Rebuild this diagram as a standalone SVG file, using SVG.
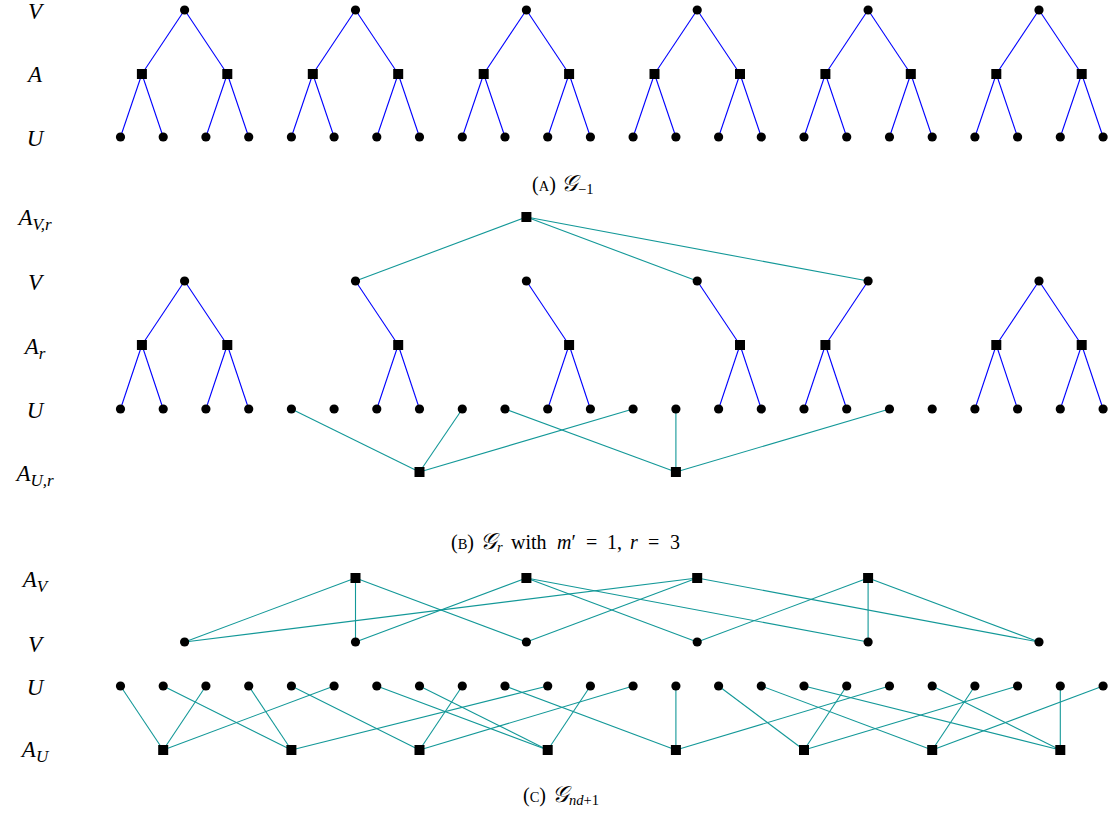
<svg xmlns="http://www.w3.org/2000/svg" xmlns:xlink="http://www.w3.org/1999/xlink" width="1111" height="816" viewBox="0 0 1111 816">
<style>
.tree{stroke:#0000ff;stroke-width:1.1;fill:none}
.bip{stroke:#139898;stroke-width:1.1;fill:none}
.lbl{font-family:"Liberation Serif","DejaVu Serif",serif;font-style:italic;font-size:23px;fill:#000;text-anchor:middle}
.sub{font-size:17px}
.cap{font-family:"Liberation Serif","DejaVu Serif",serif;font-size:20px;fill:#000}
.sc{font-size:14.5px}
.it{font-style:italic}
.scr{font-family:"DejaVu Serif","DejaVu Sans","Noto Sans",serif;font-style:italic;font-size:23px}
.cs{font-size:14.5px}
</style>
<defs>
<circle id="dot" r="4.6" fill="#000"/>
<rect id="sq" x="-5" y="-5" width="10" height="10" fill="#000"/>
</defs>
<rect width="1111" height="816" fill="#fff"/>

<g id="labels">
<text class="lbl" x="35" y="19">V</text>
<text class="lbl" x="35" y="82">A</text>
<text class="lbl" x="35" y="146">U</text>
<text class="lbl" x="35" y="225">A<tspan class="sub" dy="5">V,r</tspan></text>
<text class="lbl" x="35" y="290">V</text>
<text class="lbl" x="35" y="354">A<tspan class="sub" dy="5">r</tspan></text>
<text class="lbl" x="35" y="418">U</text>
<text class="lbl" x="35" y="481">A<tspan class="sub" dy="5">U,r</tspan></text>
<text class="lbl" x="35" y="587">A<tspan class="sub" dy="5">V</tspan></text>
<text class="lbl" x="35" y="652">V</text>
<text class="lbl" x="35" y="695">U</text>
<text class="lbl" x="35" y="757">A<tspan class="sub" dy="5">U</tspan></text>
</g>

<g id="captions">
<text class="cap" y="191"><tspan x="532">(</tspan><tspan class="sc">A</tspan><tspan>)</tspan><tspan class="scr" x="561">𝒢</tspan><tspan class="cs" dx="1" dy="3">−1</tspan></text>
<text class="cap" y="549"><tspan x="451">(</tspan><tspan class="sc">B</tspan><tspan>)</tspan><tspan class="scr" x="480">𝒢</tspan><tspan class="cs it" dx="1" dy="3">r</tspan><tspan x="511" dy="-3">with</tspan><tspan class="it" x="557">m</tspan><tspan>′</tspan><tspan x="586">=</tspan><tspan x="607">1,</tspan><tspan class="it" x="630">r</tspan><tspan x="648">=</tspan><tspan x="670">3</tspan></text>
<text class="cap" y="802"><tspan x="523">(</tspan><tspan class="sc">C</tspan><tspan>)</tspan><tspan class="scr" x="552">𝒢</tspan><tspan class="cs it" dx="1" dy="3">nd</tspan><tspan class="cs">+1</tspan></text>
</g>

<g id="connectors">
<g class="tree">
<line x1="184.6" y1="10" x2="141.9" y2="74"/><line x1="184.6" y1="10" x2="227.3" y2="74"/>
<line x1="141.9" y1="74" x2="120.5" y2="137"/><line x1="141.9" y1="74" x2="163.2" y2="137"/>
<line x1="227.3" y1="74" x2="205.9" y2="137"/><line x1="227.3" y1="74" x2="248.7" y2="137"/>
<line x1="355.5" y1="10" x2="312.8" y2="74"/><line x1="355.5" y1="10" x2="398.2" y2="74"/>
<line x1="312.8" y1="74" x2="291.4" y2="137"/><line x1="312.8" y1="74" x2="334.1" y2="137"/>
<line x1="398.2" y1="74" x2="376.8" y2="137"/><line x1="398.2" y1="74" x2="419.5" y2="137"/>
<line x1="526.4" y1="10" x2="483.7" y2="74"/><line x1="526.4" y1="10" x2="569.1" y2="74"/>
<line x1="483.7" y1="74" x2="462.3" y2="137"/><line x1="483.7" y1="74" x2="505.0" y2="137"/>
<line x1="569.1" y1="74" x2="547.7" y2="137"/><line x1="569.1" y1="74" x2="590.4" y2="137"/>
<line x1="697.2" y1="10" x2="654.5" y2="74"/><line x1="697.2" y1="10" x2="740.0" y2="74"/>
<line x1="654.5" y1="74" x2="633.1" y2="137"/><line x1="654.5" y1="74" x2="675.9" y2="137"/>
<line x1="740.0" y1="74" x2="718.6" y2="137"/><line x1="740.0" y1="74" x2="761.3" y2="137"/>
<line x1="868.1" y1="10" x2="825.4" y2="74"/><line x1="868.1" y1="10" x2="910.8" y2="74"/>
<line x1="825.4" y1="74" x2="804.0" y2="137"/><line x1="825.4" y1="74" x2="846.7" y2="137"/>
<line x1="910.8" y1="74" x2="889.5" y2="137"/><line x1="910.8" y1="74" x2="932.2" y2="137"/>
<line x1="1039.0" y1="10" x2="996.3" y2="74"/><line x1="1039.0" y1="10" x2="1081.7" y2="74"/>
<line x1="996.3" y1="74" x2="974.9" y2="137"/><line x1="996.3" y1="74" x2="1017.6" y2="137"/>
<line x1="1081.7" y1="74" x2="1060.3" y2="137"/><line x1="1081.7" y1="74" x2="1103.1" y2="137"/>
</g>
<g class="tree">
<line x1="184.6" y1="281" x2="141.9" y2="345"/><line x1="184.6" y1="281" x2="227.3" y2="345"/>
<line x1="141.9" y1="345" x2="120.5" y2="409"/><line x1="141.9" y1="345" x2="163.2" y2="409"/>
<line x1="227.3" y1="345" x2="205.9" y2="409"/><line x1="227.3" y1="345" x2="248.7" y2="409"/>
<line x1="355.5" y1="281" x2="398.2" y2="345"/>
<line x1="398.2" y1="345" x2="376.8" y2="409"/><line x1="398.2" y1="345" x2="419.5" y2="409"/>
<line x1="526.4" y1="281" x2="569.1" y2="345"/>
<line x1="569.1" y1="345" x2="547.7" y2="409"/><line x1="569.1" y1="345" x2="590.4" y2="409"/>
<line x1="697.2" y1="281" x2="740.0" y2="345"/>
<line x1="740.0" y1="345" x2="718.6" y2="409"/><line x1="740.0" y1="345" x2="761.3" y2="409"/>
<line x1="868.1" y1="281" x2="825.4" y2="345"/>
<line x1="825.4" y1="345" x2="804.0" y2="409"/><line x1="825.4" y1="345" x2="846.7" y2="409"/>
<line x1="1039.0" y1="281" x2="996.3" y2="345"/><line x1="1039.0" y1="281" x2="1081.7" y2="345"/>
<line x1="996.3" y1="345" x2="974.9" y2="409"/><line x1="996.3" y1="345" x2="1017.6" y2="409"/>
<line x1="1081.7" y1="345" x2="1060.3" y2="409"/><line x1="1081.7" y1="345" x2="1103.1" y2="409"/>
</g>
<g class="bip">
<line x1="526.4" y1="217" x2="355.5" y2="281"/><line x1="526.4" y1="217" x2="697.2" y2="281"/><line x1="526.4" y1="217" x2="868.1" y2="281"/>
<line x1="419.5" y1="472" x2="291.4" y2="409"/><line x1="419.5" y1="472" x2="462.3" y2="409"/><line x1="419.5" y1="472" x2="633.1" y2="409"/>
<line x1="675.9" y1="472" x2="505.0" y2="409"/><line x1="675.9" y1="472" x2="675.9" y2="409"/><line x1="675.9" y1="472" x2="889.5" y2="409"/>
</g>
<g class="bip">
<line x1="355.5" y1="578" x2="184.6" y2="642"/><line x1="355.5" y1="578" x2="355.5" y2="642"/><line x1="355.5" y1="578" x2="526.4" y2="642"/>
<line x1="526.4" y1="578" x2="355.5" y2="642"/><line x1="526.4" y1="578" x2="697.2" y2="642"/><line x1="526.4" y1="578" x2="868.1" y2="642"/>
<line x1="697.2" y1="578" x2="184.6" y2="642"/><line x1="697.2" y1="578" x2="526.4" y2="642"/><line x1="697.2" y1="578" x2="1039.0" y2="642"/>
<line x1="868.1" y1="578" x2="697.2" y2="642"/><line x1="868.1" y1="578" x2="868.1" y2="642"/><line x1="868.1" y1="578" x2="1039.0" y2="642"/>
<line x1="163.2" y1="750" x2="120.5" y2="686"/><line x1="163.2" y1="750" x2="205.9" y2="686"/><line x1="163.2" y1="750" x2="334.1" y2="686"/>
<line x1="291.4" y1="750" x2="163.2" y2="686"/><line x1="291.4" y1="750" x2="248.7" y2="686"/><line x1="291.4" y1="750" x2="547.7" y2="686"/>
<line x1="419.5" y1="750" x2="291.4" y2="686"/><line x1="419.5" y1="750" x2="462.3" y2="686"/><line x1="419.5" y1="750" x2="633.1" y2="686"/>
<line x1="547.7" y1="750" x2="376.8" y2="686"/><line x1="547.7" y1="750" x2="419.5" y2="686"/><line x1="547.7" y1="750" x2="590.4" y2="686"/>
<line x1="675.9" y1="750" x2="505.0" y2="686"/><line x1="675.9" y1="750" x2="675.9" y2="686"/><line x1="675.9" y1="750" x2="889.5" y2="686"/>
<line x1="804.0" y1="750" x2="718.6" y2="686"/><line x1="804.0" y1="750" x2="846.7" y2="686"/><line x1="804.0" y1="750" x2="1017.6" y2="686"/>
<line x1="932.2" y1="750" x2="761.3" y2="686"/><line x1="932.2" y1="750" x2="974.9" y2="686"/><line x1="932.2" y1="750" x2="1103.1" y2="686"/>
<line x1="1060.3" y1="750" x2="804.0" y2="686"/><line x1="1060.3" y1="750" x2="932.2" y2="686"/><line x1="1060.3" y1="750" x2="1060.3" y2="686"/>
</g>
</g>

<g id="a-V0"><use href="#dot" x="184.6" y="10"/></g>
<g id="a-V1"><use href="#dot" x="355.5" y="10"/></g>
<g id="a-V2"><use href="#dot" x="526.4" y="10"/></g>
<g id="a-V3"><use href="#dot" x="697.2" y="10"/></g>
<g id="a-V4"><use href="#dot" x="868.1" y="10"/></g>
<g id="a-V5"><use href="#dot" x="1039.0" y="10"/></g>
<g id="a-A0"><use href="#sq" x="141.9" y="74"/></g>
<g id="a-A1"><use href="#sq" x="227.3" y="74"/></g>
<g id="a-A2"><use href="#sq" x="312.8" y="74"/></g>
<g id="a-A3"><use href="#sq" x="398.2" y="74"/></g>
<g id="a-A4"><use href="#sq" x="483.7" y="74"/></g>
<g id="a-A5"><use href="#sq" x="569.1" y="74"/></g>
<g id="a-A6"><use href="#sq" x="654.5" y="74"/></g>
<g id="a-A7"><use href="#sq" x="740.0" y="74"/></g>
<g id="a-A8"><use href="#sq" x="825.4" y="74"/></g>
<g id="a-A9"><use href="#sq" x="910.8" y="74"/></g>
<g id="a-A10"><use href="#sq" x="996.3" y="74"/></g>
<g id="a-A11"><use href="#sq" x="1081.7" y="74"/></g>
<g id="a-U0"><use href="#dot" x="120.5" y="137"/></g>
<g id="a-U1"><use href="#dot" x="163.2" y="137"/></g>
<g id="a-U2"><use href="#dot" x="205.9" y="137"/></g>
<g id="a-U3"><use href="#dot" x="248.7" y="137"/></g>
<g id="a-U4"><use href="#dot" x="291.4" y="137"/></g>
<g id="a-U5"><use href="#dot" x="334.1" y="137"/></g>
<g id="a-U6"><use href="#dot" x="376.8" y="137"/></g>
<g id="a-U7"><use href="#dot" x="419.5" y="137"/></g>
<g id="a-U8"><use href="#dot" x="462.3" y="137"/></g>
<g id="a-U9"><use href="#dot" x="505.0" y="137"/></g>
<g id="a-U10"><use href="#dot" x="547.7" y="137"/></g>
<g id="a-U11"><use href="#dot" x="590.4" y="137"/></g>
<g id="a-U12"><use href="#dot" x="633.1" y="137"/></g>
<g id="a-U13"><use href="#dot" x="675.9" y="137"/></g>
<g id="a-U14"><use href="#dot" x="718.6" y="137"/></g>
<g id="a-U15"><use href="#dot" x="761.3" y="137"/></g>
<g id="a-U16"><use href="#dot" x="804.0" y="137"/></g>
<g id="a-U17"><use href="#dot" x="846.7" y="137"/></g>
<g id="a-U18"><use href="#dot" x="889.5" y="137"/></g>
<g id="a-U19"><use href="#dot" x="932.2" y="137"/></g>
<g id="a-U20"><use href="#dot" x="974.9" y="137"/></g>
<g id="a-U21"><use href="#dot" x="1017.6" y="137"/></g>
<g id="a-U22"><use href="#dot" x="1060.3" y="137"/></g>
<g id="a-U23"><use href="#dot" x="1103.1" y="137"/></g>

<g id="b-AV"><use href="#sq" x="526.4" y="217"/></g>
<g id="b-V0"><use href="#dot" x="184.6" y="281"/></g>
<g id="b-V1"><use href="#dot" x="355.5" y="281"/></g>
<g id="b-V2"><use href="#dot" x="526.4" y="281"/></g>
<g id="b-V3"><use href="#dot" x="697.2" y="281"/></g>
<g id="b-V4"><use href="#dot" x="868.1" y="281"/></g>
<g id="b-V5"><use href="#dot" x="1039.0" y="281"/></g>
<g id="b-A0"><use href="#sq" x="141.9" y="345"/></g>
<g id="b-A1"><use href="#sq" x="227.3" y="345"/></g>
<g id="b-A3"><use href="#sq" x="398.2" y="345"/></g>
<g id="b-A5"><use href="#sq" x="569.1" y="345"/></g>
<g id="b-A7"><use href="#sq" x="740.0" y="345"/></g>
<g id="b-A8"><use href="#sq" x="825.4" y="345"/></g>
<g id="b-A10"><use href="#sq" x="996.3" y="345"/></g>
<g id="b-A11"><use href="#sq" x="1081.7" y="345"/></g>
<g id="b-U0"><use href="#dot" x="120.5" y="409"/></g>
<g id="b-U1"><use href="#dot" x="163.2" y="409"/></g>
<g id="b-U2"><use href="#dot" x="205.9" y="409"/></g>
<g id="b-U3"><use href="#dot" x="248.7" y="409"/></g>
<g id="b-U4"><use href="#dot" x="291.4" y="409"/></g>
<g id="b-U5"><use href="#dot" x="334.1" y="409"/></g>
<g id="b-U6"><use href="#dot" x="376.8" y="409"/></g>
<g id="b-U7"><use href="#dot" x="419.5" y="409"/></g>
<g id="b-U8"><use href="#dot" x="462.3" y="409"/></g>
<g id="b-U9"><use href="#dot" x="505.0" y="409"/></g>
<g id="b-U10"><use href="#dot" x="547.7" y="409"/></g>
<g id="b-U11"><use href="#dot" x="590.4" y="409"/></g>
<g id="b-U12"><use href="#dot" x="633.1" y="409"/></g>
<g id="b-U13"><use href="#dot" x="675.9" y="409"/></g>
<g id="b-U14"><use href="#dot" x="718.6" y="409"/></g>
<g id="b-U15"><use href="#dot" x="761.3" y="409"/></g>
<g id="b-U16"><use href="#dot" x="804.0" y="409"/></g>
<g id="b-U17"><use href="#dot" x="846.7" y="409"/></g>
<g id="b-U18"><use href="#dot" x="889.5" y="409"/></g>
<g id="b-U19"><use href="#dot" x="932.2" y="409"/></g>
<g id="b-U20"><use href="#dot" x="974.9" y="409"/></g>
<g id="b-U21"><use href="#dot" x="1017.6" y="409"/></g>
<g id="b-U22"><use href="#dot" x="1060.3" y="409"/></g>
<g id="b-U23"><use href="#dot" x="1103.1" y="409"/></g>
<g id="b-AU0"><use href="#sq" x="419.5" y="472"/></g>
<g id="b-AU1"><use href="#sq" x="675.9" y="472"/></g>

<g id="c-AV0"><use href="#sq" x="355.5" y="578"/></g>
<g id="c-AV1"><use href="#sq" x="526.4" y="578"/></g>
<g id="c-AV2"><use href="#sq" x="697.2" y="578"/></g>
<g id="c-AV3"><use href="#sq" x="868.1" y="578"/></g>
<g id="c-V0"><use href="#dot" x="184.6" y="642"/></g>
<g id="c-V1"><use href="#dot" x="355.5" y="642"/></g>
<g id="c-V2"><use href="#dot" x="526.4" y="642"/></g>
<g id="c-V3"><use href="#dot" x="697.2" y="642"/></g>
<g id="c-V4"><use href="#dot" x="868.1" y="642"/></g>
<g id="c-V5"><use href="#dot" x="1039.0" y="642"/></g>
<g id="c-U0"><use href="#dot" x="120.5" y="686"/></g>
<g id="c-U1"><use href="#dot" x="163.2" y="686"/></g>
<g id="c-U2"><use href="#dot" x="205.9" y="686"/></g>
<g id="c-U3"><use href="#dot" x="248.7" y="686"/></g>
<g id="c-U4"><use href="#dot" x="291.4" y="686"/></g>
<g id="c-U5"><use href="#dot" x="334.1" y="686"/></g>
<g id="c-U6"><use href="#dot" x="376.8" y="686"/></g>
<g id="c-U7"><use href="#dot" x="419.5" y="686"/></g>
<g id="c-U8"><use href="#dot" x="462.3" y="686"/></g>
<g id="c-U9"><use href="#dot" x="505.0" y="686"/></g>
<g id="c-U10"><use href="#dot" x="547.7" y="686"/></g>
<g id="c-U11"><use href="#dot" x="590.4" y="686"/></g>
<g id="c-U12"><use href="#dot" x="633.1" y="686"/></g>
<g id="c-U13"><use href="#dot" x="675.9" y="686"/></g>
<g id="c-U14"><use href="#dot" x="718.6" y="686"/></g>
<g id="c-U15"><use href="#dot" x="761.3" y="686"/></g>
<g id="c-U16"><use href="#dot" x="804.0" y="686"/></g>
<g id="c-U17"><use href="#dot" x="846.7" y="686"/></g>
<g id="c-U18"><use href="#dot" x="889.5" y="686"/></g>
<g id="c-U19"><use href="#dot" x="932.2" y="686"/></g>
<g id="c-U20"><use href="#dot" x="974.9" y="686"/></g>
<g id="c-U21"><use href="#dot" x="1017.6" y="686"/></g>
<g id="c-U22"><use href="#dot" x="1060.3" y="686"/></g>
<g id="c-U23"><use href="#dot" x="1103.1" y="686"/></g>
<g id="c-AU0"><use href="#sq" x="163.2" y="750"/></g>
<g id="c-AU1"><use href="#sq" x="291.4" y="750"/></g>
<g id="c-AU2"><use href="#sq" x="419.5" y="750"/></g>
<g id="c-AU3"><use href="#sq" x="547.7" y="750"/></g>
<g id="c-AU4"><use href="#sq" x="675.9" y="750"/></g>
<g id="c-AU5"><use href="#sq" x="804.0" y="750"/></g>
<g id="c-AU6"><use href="#sq" x="932.2" y="750"/></g>
<g id="c-AU7"><use href="#sq" x="1060.3" y="750"/></g>
</svg>
